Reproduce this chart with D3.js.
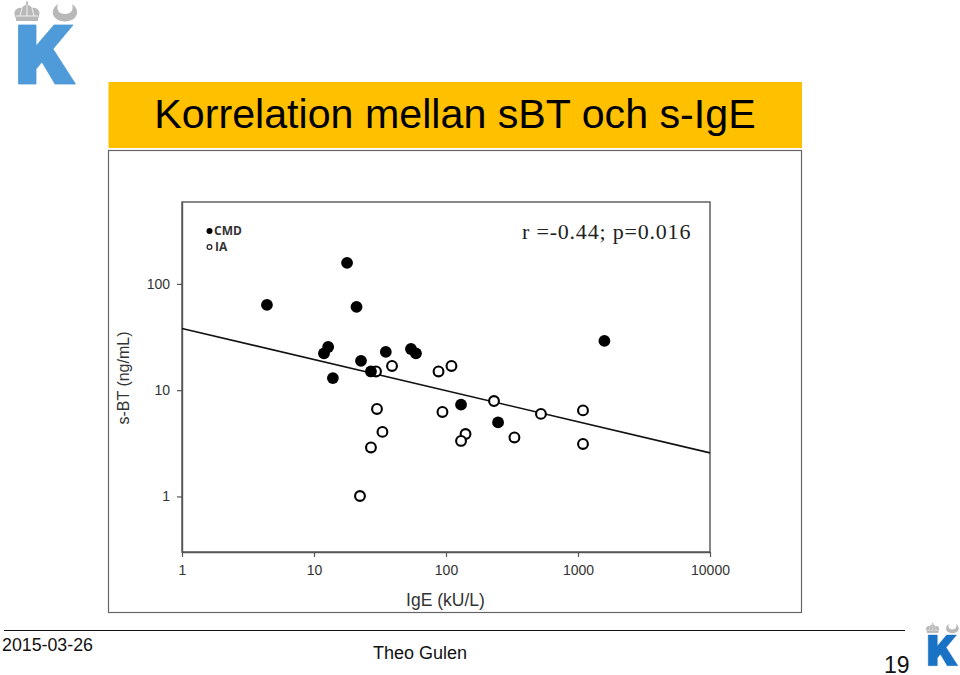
<!DOCTYPE html>
<html><head><meta charset="utf-8">
<script src="https://cdnjs.cloudflare.com/ajax/libs/d3/7.8.5/d3.min.js"></script>
<style>html,body{margin:0;padding:0;background:#fff}svg{display:block}text{font-family:"Liberation Sans",Arial,sans-serif}</style>
</head><body><svg id="c" width="960" height="675"></svg>
<script>
const titleText = "Korrelation mellan sBT och s-IgE";
const xTicks = [1, 10, 100, 1000, 10000];
const yTicks = [1, 10, 100];
const cmdX = [4.4, 17.8, 21, 12.8, 11.9, 22.7, 13.9, 27, 35, 54.3, 59.2, 130, 248, 1585];
const cmdY = [63.4, 158, 60.8, 25.5, 22.2, 18.9, 13, 15, 22.9, 24.4, 22.2, 7.3, 4.97, 29.1];
const iaX = [29.5, 39, 87.8, 110, 30, 94, 231, 524, 1091, 33, 27, 140.6, 130, 330, 1091, 22.3];
const iaY = [15, 16.9, 15, 16.9, 6.66, 6.24, 7.9, 5.98, 6.45, 4.05, 2.89, 3.87, 3.33, 3.59, 3.12, 1.01];
const fitX = [1, 10000];
const fitY = [38.1, 2.57];
const xDomain = [1, 10000];
const yDomain = [0.3, 590];

const svg = d3.select("#c");
const L=182,R=710,T=202,B=552;
const x = d3.scaleLog().domain(xDomain).range([L,R]);
const y = d3.scaleLog().domain(yDomain).range([B,T]);

// Slide furniture
svg.append("rect").attr("x",108.5).attr("y",82).attr("width",693.5).attr("height",66).attr("fill","#ffc000");
svg.append("text").attr("x",455).attr("y",127.5).attr("text-anchor","middle").attr("font-size",41.2).attr("fill","#000").text(titleText);
svg.append("rect").attr("x",108.5).attr("y",150.5).attr("width",693).attr("height",462).attr("fill","#fff").attr("stroke","#666").attr("stroke-width",1.2);

function logo(g, blue, grey){
  g.append("path").attr("fill",blue).attr("d","M18.5 25H36V46L54 25H73L53 49L75.5 84H55L42 62L36 69V84H18.5Z").attr("stroke",blue).attr("stroke-width",0.8).attr("stroke-linejoin","round");
  // crown
  g.append("path").attr("fill",grey).attr("d","M15 16C13 11 17 7 22 8C23 6 25 5 26 5V1.5H28V5C29 5 31 6 32 8C37 7 41 11 39 16L38 19H16Z");
  g.append("path").attr("stroke","#fff").attr("stroke-width",0.8).attr("fill","none").attr("d","M16 16H38M22 8L20 16M32 8L34 16M27 5V16");
  g.append("rect").attr("x",16).attr("y",18).attr("width",22).attr("height",3).attr("fill",grey);
  // wreath
  g.append("path").attr("fill",grey).attr("d","M58 4C49 10 52 21 65 21.5C78 21 81 10 72 4C74 10 71 14 65 14C59 14 56 10 58 4Z");
}
logo(svg.append("g"),"#4f9ad8","#b8b8b8");
logo(svg.append("g").attr("transform","translate(918.6,622) scale(0.52)"),"#1a72c4","#b8b8b8");

// Footer
svg.append("line").attr("x1",4).attr("x2",905).attr("y1",630.5).attr("y2",630.5).attr("stroke","#111").attr("stroke-width",1.2);
svg.append("text").attr("x",2).attr("y",651).attr("font-size",17.8).attr("fill","#111").text("2015-03-26");
svg.append("text").attr("x",373).attr("y",659).attr("font-size",18).attr("fill","#111").text("Theo Gulen");
svg.append("text").attr("x",884).attr("y",673).attr("font-size",23).attr("fill","#111").text("19");

// Plot frame
svg.append("rect").attr("x",L).attr("y",T).attr("width",R-L).attr("height",B-T).attr("fill","#fff").attr("stroke","#555").attr("stroke-width",1.4);

// Axes
const xAxis = d3.axisBottom(x).tickValues(xTicks).tickFormat(d3.format("d")).tickSize(5).tickSizeOuter(0).tickPadding(8);
const yAxis = d3.axisLeft(y).tickValues(yTicks).tickFormat(d3.format("d")).tickSize(5).tickSizeOuter(0).tickPadding(7);
const gx = svg.append("g").attr("transform",`translate(0,${B})`).call(xAxis);
const gy = svg.append("g").attr("transform",`translate(${L},0)`).call(yAxis);
[gx,gy].forEach(g=>{
  g.select(".domain").attr("stroke","#555").attr("stroke-width",1.4);
  g.selectAll(".tick line").attr("stroke","#555").attr("stroke-width",1.2);
  g.selectAll("text").attr("font-size",14).attr("fill","#333").style("font-family",'"Liberation Sans"');
});
svg.append("text").attr("x",445.5).attr("y",606).attr("text-anchor","middle").attr("font-size",17.5).attr("fill","#333").text("IgE (kU/L)");
svg.append("text").attr("transform","translate(129,378) rotate(-90)").attr("text-anchor","middle").attr("font-size",16).attr("fill","#333").text("s-BT (ng/mL)");

// Fit line
svg.append("path").attr("fill","none").attr("stroke","#111").attr("stroke-width",1.6)
  .attr("d",d3.line().x(d=>x(d[0])).y(d=>y(d[1]))(d3.zip(fitX,fitY)));

// Points
svg.append("g").selectAll("circle").data(d3.zip(iaX,iaY)).join("circle")
  .attr("cx",d=>x(d[0])).attr("cy",d=>y(d[1])).attr("r",4.9).attr("fill","#fff").attr("stroke","#000").attr("stroke-width",2.1);
svg.append("g").selectAll("circle").data(d3.zip(cmdX,cmdY)).join("circle")
  .attr("cx",d=>x(d[0])).attr("cy",d=>y(d[1])).attr("r",5.9).attr("fill","#000");

// Legend
svg.append("circle").attr("cx",209.5).attr("cy",231).attr("r",3).attr("fill","#000");
svg.append("text").attr("x",214).attr("y",235).attr("font-size",12).attr("font-weight","bold").attr("fill","#333").style("font-family",'"Open Sans"').text("CMD");
svg.append("circle").attr("cx",209.5).attr("cy",247).attr("r",2.4).attr("fill","#fff").attr("stroke","#222").attr("stroke-width",1.2);
svg.append("text").attr("x",215).attr("y",251).attr("font-size",12).attr("font-weight","bold").attr("fill","#333").style("font-family",'"Open Sans"').text("IA");

// Annotation
svg.append("text").attr("x",522).attr("y",239).attr("font-size",22).attr("letter-spacing",0.8).attr("fill","#222").style("font-family",'"Liberation Serif"').text("r =-0.44; p=0.016");
</script></body></html>
